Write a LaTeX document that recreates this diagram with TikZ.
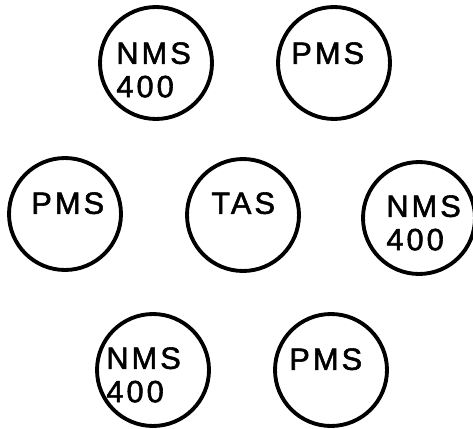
\documentclass[tikz,border=0pt]{standalone}
\usepackage{fontspec}
\setmainfont[LetterSpace=10,FakeBold=1.8]{Liberation Sans}
\usetikzlibrary{positioning,calc}

\begin{document}
\begin{tikzpicture}[x=0.02cm,y=-0.02cm,
 unit/.style={circle,draw=black,line width=2.2pt,minimum size=2.24cm,inner sep=0pt,outer sep=0pt},
 lbl/.style={anchor=north west,inner sep=0pt,align=left,font=\fontsize{17.5}{19}\selectfont}]
\useasboundingbox (0,0) rectangle (473,429);
% stations
\foreach \nm/\x/\y in {nmsa/156/63,pmsa/334/63,
                       pmsb/65/214,tas/243/215,nmsb/419/218,
                       nmsc/153/370,pmsc/331/370}{
  \node[unit] (\nm) at (\x,\y) {};
}
% labels, set high in each circle
\foreach \nm/\dx/\dy/\txt in {nmsa/-40/-21/{NMS\\400},pmsa/-43/-21/{PMS},
                              pmsb/-34/-22/{PMS},tas/-32/-23/{TAS},nmsb/-33/-23/{NMS\\400},
                              nmsc/-47/-23/{NMS\\400},pmsc/-42/-22/{PMS}}{
  \node[lbl] (\nm-t) at ($(\nm)+(\dx,\dy)$) {\txt};
}
\end{tikzpicture}
\end{document}
